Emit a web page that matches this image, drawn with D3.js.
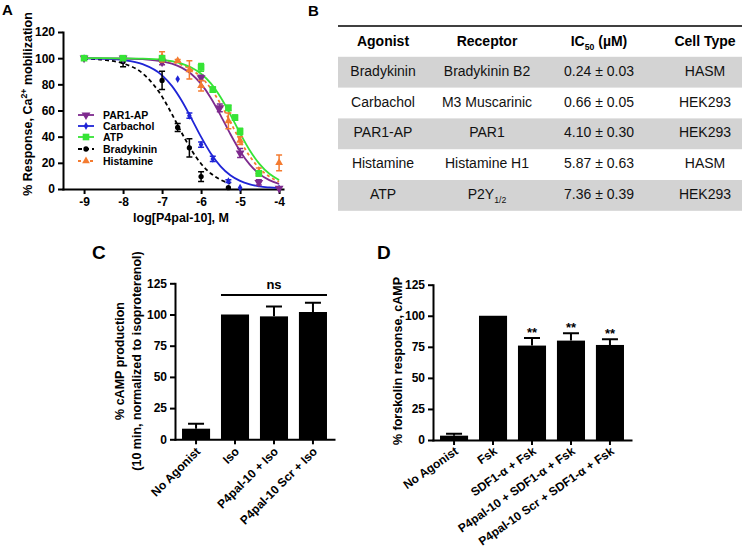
<!DOCTYPE html>
<html><head><meta charset="utf-8">
<script src="https://cdn.jsdelivr.net/npm/d3@7/dist/d3.min.js"></script>
<style>html,body{margin:0;padding:0;background:#fff;}svg{display:block}</style>
</head><body>
<svg id="fig" width="742" height="549"></svg>
<script>
// ================= DATA =================
// Panel A
const aXTicks = [-9,-8,-7,-6,-5,-4];
const aYTicks = [0,20,40,60,80,100,120];
const seriesNames = ["PAR1-AP","Carbachol","ATP","Bradykinin","Histamine"];
const curveLogX = [-9,-8.5,-8,-7.5,-7,-6.75,-6.5,-6.25,-6,-5.75,-5.5,-5.25,-5,-4.75,-4.5,-4.25,-4];
const par1Curve  = [100,99.9,99.75,99.2,97.6,95.8,92.8,87.9,80.3,69.6,56.3,42.0,28.9,18.6,11.4,6.8,3.9];
const carbCurve  = [99.85,99.5,98.5,95.4,86.9,78.8,67.6,54.0,39.8,27.1,17.3,10.5,6.2,3.6,2.0,1.2,0.66];
const atpCurve   = [100,99.96,99.87,99.6,98.7,97.7,95.9,92.9,88.1,80.7,70.1,56.9,42.6,29.4,19.0,11.6,6.9];
const bradyCurve = [99.6,98.7,96.0,88.4,70.6,57.4,43.1,29.9,19.3,11.9,7.05,4.1,null,null,null,null,null];
const histCurve  = [null,null,null,null,98.3,97.1,94.9,91.3,85.5,76.8,65.1,51.2,37.1,24.9,15.7,9.5,5.6];
// points: [log conc, mean %, SEM]
const par1Points  = [[-9,100,0],[-8,100,0],[-7,97,2],[-6,85,2],[-5.52,62,3],[-5,27.5,3.5],[-4.52,5,2],[-4,0.5,0.5]];
const carbPoints  = [[-9,100,0],[-8,99,0.5],[-7,98,1],[-6.6,84,0.5],[-6.3,56,2],[-6,34,2],[-5.7,23,2],[-5.3,6,1],[-5,1,0.5],[-4,0.5,0.5]];
const atpPoints   = [[-9,100,0],[-8,100,0.5],[-7,100,1],[-6,93,3],[-5.7,76,2],[-5.3,62,2],[-5.13,54.5,2],[-5,44,2.5],[-4.52,12,2]];
const bradyPoints = [[-9,100,0],[-8,97.5,4],[-7,83,7],[-6.6,47,3],[-6.3,31.5,7],[-6,9.5,3.7],[-5.3,1,0.5]];
const histPoints  = [[-7,101,4],[-6.6,98,1],[-6.3,91,7],[-6,79,4],[-5.3,52,6],[-5,37,3],[-4.52,13,3],[-4,20,6]];

// Panel B
const tableHeader = ["Agonist","Receptor","IC_{50} (µM)","Cell Type"];
const agonists  = ["Bradykinin","Carbachol","PAR1-AP","Histamine","ATP"];
const receptors = ["Bradykinin B2","M3 Muscarinic","PAR1","Histamine H1","P2Y_{1/2}"];
const ic50Text  = ["0.24 ± 0.03","0.66 ± 0.05","4.10 ± 0.30","5.87 ± 0.63","7.36 ± 0.39"];
const cellTypes = ["HASM","HEK293","HEK293","HASM","HEK293"];

// Panel C
const barYTicks = [0,25,50,75,100,125];
const cCats = ["No Agonist","Iso","P4pal-10 + Iso","P4pal-10 Scr + Iso"];
const cVals = [8.5,100,98.5,102];
const cErr  = [4,0,8,7.5];

// Panel D
const dCats = ["No Agonist","Fsk","SDF1-α + Fsk","P4pal-10 + SDF1-α + Fsk","P4pal-10 Scr + SDF1-α + Fsk"];
const dVals = [3.5,100,76,80,76.5];
const dErr  = [1.5,0,6,6,4.5];
const dSig  = ["","","**","**","**"];

// ================= DRAWING =================
const FONT = '"Liberation Sans", Arial, Helvetica, sans-serif';
const svg = d3.select("#fig").attr("font-family", FONT);

function styleAxis(g){
  g.selectAll(".domain").attr("stroke","#000").attr("stroke-width",2).attr("stroke-linecap","square");
  g.selectAll(".tick line").attr("stroke","#000").attr("stroke-width",2);
  g.selectAll(".tick text").attr("font-family",FONT).attr("font-size",12).attr("font-weight","bold").attr("fill","#000");
}
function richText(sel, str){
  const parts = str.split(/(_\{[^}]*\})/).filter(p => p.length);
  let shifted = false;
  parts.forEach(p => {
    if (p.startsWith("_{")) {
      sel.append("tspan").attr("font-size","0.62em").attr("dy",4).text(p.slice(2,-1));
      shifted = true;
    } else {
      const t = sel.append("tspan").text(p);
      if (shifted) { t.attr("dy",-4); shifted = false; }
    }
  });
}
function panelLabel(t,x,y,size){
  svg.append("text").attr("x",x).attr("y",y).attr("font-size",size).attr("font-weight","bold").text(t);
}

// ---------- Panel A ----------
panelLabel("A",2,15,15);
const xA = d3.scaleLinear().domain([-9.54,-3.9]).range([63,283]);
const yA = d3.scaleLinear().domain([0,120]).range([189,32]);
const gA = svg.append("g");
gA.append("g").attr("transform","translate(0,189)")
  .call(d3.axisBottom(xA).tickValues(aXTicks).tickFormat(d=>String(d)).tickSize(5).tickSizeOuter(0)).call(styleAxis);
gA.append("g").attr("transform","translate(63,0)")
  .call(d3.axisLeft(yA).tickValues(aYTicks).tickSize(5).tickSizeOuter(0)).call(styleAxis);

const aYLab = gA.append("text").attr("transform","translate(32,104) rotate(-90)")
  .attr("text-anchor","middle").attr("font-size",12.5).attr("font-weight","bold");
aYLab.append("tspan").text("% Response, Ca");
aYLab.append("tspan").attr("font-size","0.7em").attr("dy",-5).text("2+");
aYLab.append("tspan").attr("dy",5).text(" mobilization");
gA.append("text").attr("x",181).attr("y",222).attr("text-anchor","middle")
  .attr("font-size",12.5).attr("font-weight","bold").text("log[P4pal-10], M");

const symTriDown = {draw(ctx,size){const s=Math.sqrt(size/(Math.sqrt(3)/4)); const h=s*Math.sqrt(3)/2; ctx.moveTo(-s/2,-h/3); ctx.lineTo(s/2,-h/3); ctx.lineTo(0,2*h/3); ctx.closePath();}};
const symTriUp = {draw(ctx,size){const s=Math.sqrt(size/(Math.sqrt(3)/4)); const h=s*Math.sqrt(3)/2; ctx.moveTo(-s/2,h/3); ctx.lineTo(s/2,h/3); ctx.lineTo(0,-2*h/3); ctx.closePath();}};

const series = [
  {name:seriesNames[0], color:"#7E2A8E", sym:symTriDown, size:34, dash:null, curve:par1Curve, pts:par1Points},
  {name:seriesNames[1], color:"#1F24D6", sym:d3.symbolDiamond, size:18, dash:null, curve:carbCurve, pts:carbPoints},
  {name:seriesNames[2], color:"#36E436", sym:d3.symbolSquare, size:44, dash:null, curve:atpCurve, pts:atpPoints},
  {name:seriesNames[3], color:"#000000", sym:d3.symbolCircle, size:22, dash:"4,3", curve:bradyCurve, pts:bradyPoints},
  {name:seriesNames[4], color:"#F47B30", sym:symTriUp, size:26, dash:"3,3", curve:histCurve, pts:histPoints}
];
const lineGen = d3.line().defined(d=>d[1]!=null).x(d=>xA(d[0])).y(d=>yA(d[1])).curve(d3.curveMonotoneX);
const drawOrder = [3,1,0,4,2];
drawOrder.forEach(i=>{
  const s = series[i];
  gA.append("path").datum(curveLogX.map((x,k)=>[x,s.curve[k]]))
    .attr("d",lineGen).attr("fill","none").attr("stroke",s.color).attr("stroke-width",1.8)
    .attr("stroke-dasharray",s.dash);
});
drawOrder.forEach(i=>{
  const s = series[i];
  const g = gA.append("g");
  s.pts.forEach(p=>{
    if (p[2]>0.8){
      const cx = xA(p[0]), y1=yA(p[1]+p[2]), y2=yA(p[1]-p[2]);
      g.append("path").attr("d",`M${cx},${y1}V${y2}M${cx-3},${y1}H${cx+3}M${cx-3},${y2}H${cx+3}`)
        .attr("stroke",s.color).attr("stroke-width",1.5).attr("fill","none");
    }
    g.append("path").attr("d",d3.symbol(s.sym,s.size)()).attr("fill",s.color)
      .attr("transform",`translate(${xA(p[0])},${yA(p[1])})`);
  });
});
// legend
const legY = [115,126,137,149,161];
series.forEach((s,i)=>{
  const y = legY[i];
  gA.append("line").attr("x1",78).attr("x2",94).attr("y1",y).attr("y2",y)
    .attr("stroke",s.color).attr("stroke-width",1.8).attr("stroke-dasharray",s.dash);
  gA.append("path").attr("d",d3.symbol(s.sym,s.size)()).attr("fill",s.color).attr("transform",`translate(86,${y})`);
  gA.append("text").attr("x",103).attr("y",y+4).attr("font-size",10.5).attr("font-weight","bold").text(s.name);
});

// ---------- Panel B ----------
panelLabel("B",308,16,15);
const colX = [383,487,599,705];
const rowTop = 26, rowH = 30.8, tblX0 = 338, tblX1 = 742;
const gB = svg.append("g");
agonists.forEach((a,i)=>{
  if (i%2===0) gB.append("rect").attr("x",tblX0).attr("y",rowTop+rowH*(i+1)).attr("width",tblX1-tblX0).attr("height",rowH).attr("fill","#d3d3d3");
});
gB.append("line").attr("x1",tblX0).attr("x2",tblX1).attr("y1",rowTop).attr("y2",rowTop).attr("stroke","#000").attr("stroke-width",1.5);
tableHeader.forEach((h,j)=>{
  const t = gB.append("text").attr("x",colX[j]).attr("y",rowTop+20).attr("text-anchor","middle")
    .attr("font-size",14).attr("font-weight","bold");
  richText(t,h);
});
const rows = agonists.map((a,i)=>[a,receptors[i],ic50Text[i],cellTypes[i]]);
rows.forEach((r,i)=>{
  r.forEach((c,j)=>{
    const t = gB.append("text").attr("x",colX[j]).attr("y",rowTop+rowH*(i+1)+19).attr("text-anchor","middle")
      .attr("font-size",14).attr("fill","#111");
    richText(t,c);
  });
});

// ---------- Bar panels ----------
function barPanel(opts){
  const g = svg.append("g");
  const y = d3.scaleLinear().domain([0,125]).range([opts.y0,opts.y125]);
  const x = d3.scaleBand().domain(opts.cats).range([opts.xa,opts.xb]).paddingInner(0.28).paddingOuter(0.18);
  g.append("g").attr("transform",`translate(${opts.xa},0)`)
    .call(d3.axisLeft(y).tickValues(barYTicks).tickSize(5).tickSizeOuter(0)).call(styleAxis);
  g.append("g").attr("transform",`translate(0,${opts.y0})`)
    .call(d3.axisBottom(x).tickSize(5).tickSizeOuter(0).tickFormat("")).call(styleAxis);
  opts.cats.forEach((c,i)=>{
    const xc = x(c)+x.bandwidth()/2;
    g.append("text").attr("transform",`translate(${xc+5},${opts.y0+13}) rotate(${opts.angle})`)
      .attr("text-anchor","end").attr("font-size",12).attr("font-weight","bold").text(c);
    const v = opts.vals[i], e = opts.err[i];
    if (e>0){
      const yt = y(v+e);
      g.append("path").attr("d",`M${xc},${y(v)}V${yt}M${xc-8},${yt}H${xc+8}`).attr("stroke","#000").attr("stroke-width",2).attr("fill","none");
    }
    g.append("rect").attr("x",x(c)).attr("y",y(v)).attr("width",x.bandwidth()).attr("height",opts.y0-y(v)).attr("fill","#000");
    if (opts.sig && opts.sig[i]) {
      g.append("text").attr("x",xc).attr("y",y(v+e)-1).attr("text-anchor","middle").attr("font-size",13).attr("font-weight","bold").text(opts.sig[i]);
    }
  });
  return {g,x,y};
}

// Panel C
panelLabel("C",92,259,19);
const C = barPanel({cats:cCats, vals:cVals, err:cErr, xa:175, xb:334, y0:439.3, y125:283.3, angle:-45});
const cLab = C.g.append("text").attr("transform","translate(0,361) rotate(-90)").attr("text-anchor","middle")
  .attr("font-size",12.5).attr("font-weight","bold");
cLab.append("tspan").attr("x",0).attr("y",124).text("% cAMP production");
cLab.append("tspan").attr("x",0).attr("y",141).text("(10 min, normalized to isoproterenol)");
const nsX1 = C.x(cCats[1]), nsX2 = C.x(cCats[3])+C.x.bandwidth();
C.g.append("line").attr("x1",nsX1).attr("x2",nsX2).attr("y1",295).attr("y2",295).attr("stroke","#000").attr("stroke-width",2);
C.g.append("text").attr("x",(nsX1+nsX2)/2).attr("y",289).attr("text-anchor","middle").attr("font-size",13).attr("font-weight","bold").text("ns");

// Panel D
panelLabel("D",377,259,19);
const D = barPanel({cats:dCats, vals:dVals, err:dErr, sig:dSig, xa:433, xb:631, y0:440, y125:284.7, angle:-35});
D.g.append("text").attr("transform","translate(402,361) rotate(-90)").attr("text-anchor","middle")
  .attr("font-size",12.5).attr("font-weight","bold").text("% forskolin response, cAMP");
</script>
</body></html>
